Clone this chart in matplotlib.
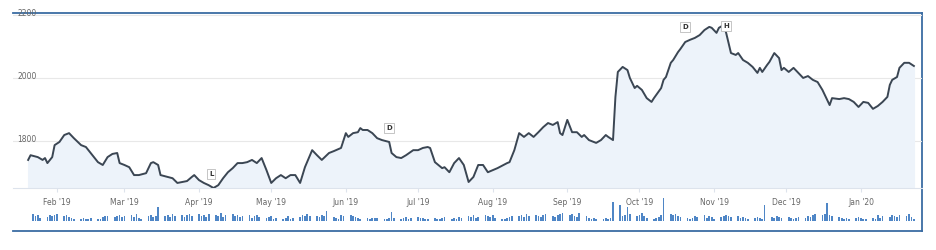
import pandas as pd
import matplotlib
matplotlib.use("Agg")
import matplotlib.pyplot as plt
import matplotlib.dates as mdates
import matplotlib.transforms as mtransforms

# Price series
price_dates = [
    "2019-01-20", "2019-01-21", "2019-01-24", "2019-01-26", "2019-01-27", "2019-01-28",
    "2019-01-30", "2019-01-31", "2019-02-02", "2019-02-04", "2019-02-06", "2019-02-08",
    "2019-02-11", "2019-02-13", "2019-02-15", "2019-02-18", "2019-02-20", "2019-02-22",
    "2019-02-24", "2019-02-26", "2019-02-27", "2019-03-01", "2019-03-03", "2019-03-05",
    "2019-03-07", "2019-03-10", "2019-03-12", "2019-03-13", "2019-03-15", "2019-03-16",
    "2019-03-19", "2019-03-21", "2019-03-23", "2019-03-25", "2019-03-27", "2019-03-29",
    "2019-03-30", "2019-04-01", "2019-04-03", "2019-04-05", "2019-04-07", "2019-04-09",
    "2019-04-11", "2019-04-13", "2019-04-15", "2019-04-17", "2019-04-19", "2019-04-21",
    "2019-04-23", "2019-04-25", "2019-04-27", "2019-04-29", "2019-05-01", "2019-05-03",
    "2019-05-05", "2019-05-07", "2019-05-09", "2019-05-11", "2019-05-13", "2019-05-15",
    "2019-05-18", "2019-05-20", "2019-05-22", "2019-05-25", "2019-05-27", "2019-05-30",
    "2019-06-01", "2019-06-02", "2019-06-04", "2019-06-06", "2019-06-07", "2019-06-08",
    "2019-06-10", "2019-06-12", "2019-06-14", "2019-06-16", "2019-06-19", "2019-06-20",
    "2019-06-22", "2019-06-24", "2019-06-26", "2019-06-29", "2019-07-01", "2019-07-03",
    "2019-07-05", "2019-07-06", "2019-07-08", "2019-07-11", "2019-07-12", "2019-07-14",
    "2019-07-16", "2019-07-18", "2019-07-20", "2019-07-22", "2019-07-24", "2019-07-26",
    "2019-07-28", "2019-07-30", "2019-08-03", "2019-08-07", "2019-08-08", "2019-08-10",
    "2019-08-12", "2019-08-14", "2019-08-16", "2019-08-18", "2019-08-20", "2019-08-22",
    "2019-08-24", "2019-08-26", "2019-08-28", "2019-08-29", "2019-08-30", "2019-09-01",
    "2019-09-03", "2019-09-05", "2019-09-07", "2019-09-08", "2019-09-10", "2019-09-13",
    "2019-09-15", "2019-09-17", "2019-09-18", "2019-09-20", "2019-09-21", "2019-09-22",
    "2019-09-24", "2019-09-26", "2019-09-27", "2019-09-29", "2019-09-30", "2019-10-02",
    "2019-10-04", "2019-10-06", "2019-10-07", "2019-10-10", "2019-10-11", "2019-10-12",
    "2019-10-14", "2019-10-15", "2019-10-17", "2019-10-18", "2019-10-20", "2019-10-22",
    "2019-10-24", "2019-10-26", "2019-10-28", "2019-10-30", "2019-10-31", "2019-11-02",
    "2019-11-03", "2019-11-05", "2019-11-06", "2019-11-08", "2019-11-10", "2019-11-11",
    "2019-11-13", "2019-11-15", "2019-11-17", "2019-11-19", "2019-11-20", "2019-11-21",
    "2019-11-23", "2019-11-24", "2019-11-26", "2019-11-28", "2019-11-29", "2019-11-30",
    "2019-12-02", "2019-12-04", "2019-12-06", "2019-12-08", "2019-12-10", "2019-12-12",
    "2019-12-14", "2019-12-16", "2019-12-18", "2019-12-19", "2019-12-20", "2019-12-23",
    "2019-12-25", "2019-12-27", "2019-12-29", "2019-12-31", "2020-01-02", "2020-01-04",
    "2020-01-06", "2020-01-08", "2020-01-10", "2020-01-12", "2020-01-13", "2020-01-14",
    "2020-01-16", "2020-01-17", "2020-01-19", "2020-01-21", "2020-01-23",
]
price_values = [
    1740, 1755, 1749, 1740, 1746, 1730,
    1749, 1787, 1797, 1819, 1825, 1809,
    1787, 1781, 1762, 1733, 1724, 1749,
    1759, 1762, 1730, 1724, 1717, 1692,
    1692, 1698, 1730, 1733, 1724, 1692,
    1686, 1682, 1667, 1670, 1673, 1686,
    1692, 1676, 1667, 1660, 1651, 1660,
    1682, 1701, 1714, 1730, 1730, 1733,
    1740, 1730, 1746, 1708, 1667, 1682,
    1692, 1682, 1692, 1692, 1667, 1717,
    1771, 1755, 1740, 1762, 1768, 1778,
    1825, 1813, 1825, 1828, 1841, 1835,
    1835, 1825, 1809, 1803, 1797, 1762,
    1749, 1746, 1755, 1771, 1771, 1778,
    1781, 1778, 1733, 1714, 1717, 1701,
    1730, 1746, 1724, 1670, 1686, 1724,
    1724, 1701, 1714, 1730, 1733, 1771,
    1825, 1813, 1825, 1813, 1828, 1844,
    1857, 1851, 1860, 1825, 1819, 1867,
    1828, 1828, 1813, 1819, 1803, 1794,
    1803, 1819, 1813, 1803, 1940, 2019,
    2035, 2025, 2000, 1968, 1975, 1962,
    1936, 1924, 1936, 1968, 1994, 2003,
    2048, 2057, 2082, 2092, 2114, 2121,
    2127, 2136, 2152, 2162, 2159, 2143,
    2159, 2168, 2143, 2079, 2073, 2079,
    2057, 2048, 2035, 2016, 2032, 2019,
    2041, 2051, 2079, 2063, 2025, 2032,
    2019, 2032, 2016, 2000, 2006, 1994,
    1987, 1962, 1930, 1914, 1936, 1933,
    1936, 1933, 1924, 1908, 1924, 1921,
    1902, 1911, 1924, 1940, 1978, 1994,
    2003, 2032, 2048, 2048, 2038,
]

# Daily volume bars, one per trading day from 2019-01-22
volume_start = "2019-01-22"
volumes = [
    7, 5, 6, 3, 4, 6, 5, 6,
    7, 5, 6, 4, 3, 2, 2, 3, 2, 2, 3, 2, 2, 4, 5, 5, 4, 5, 6, 4,
    5, 6, 4, 7, 3, 2, 5, 6, 4, 5, 13, 5, 6, 4, 7, 5, 6, 4, 6, 7, 5,
    7, 5, 6, 4, 7, 6, 5, 8, 4, 6, 7, 5, 6, 4, 5, 6, 3, 5, 6, 4, 3, 4,
    5, 2, 3, 2, 3, 5, 2, 3, 4, 6, 5, 7, 5, 5, 4, 6, 5, 10, 4, 3, 2, 6, 5,
    6, 5, 4, 3, 2, 3, 2, 3, 3, 3, 2, 2, 3, 9, 3, 2, 3, 4, 2, 3,
    4, 3, 3, 2, 2, 3, 2, 2, 3, 4, 2, 3, 2, 4, 3, 5, 4, 6, 3, 4, 6, 5, 4,
    6, 3, 2, 2, 3, 4, 5, 5, 6, 4, 7, 5, 6, 5, 4, 6, 7, 5, 4, 6, 7, 8,
    6, 7, 5, 4, 8, 5, 3, 2, 3, 2, 2, 3, 2, 3, 18, 15, 5, 6, 13, 7, 5,
    6, 8, 5, 3, 2, 3, 4, 6, 22, 7, 6, 7, 5, 4, 3, 2, 3, 5, 4, 6, 3, 5, 4,
    2, 4, 5, 6, 5, 4, 5, 3, 4, 3, 2, 3, 4, 3, 2, 15, 4, 3, 5, 4, 3,
    4, 3, 2, 3, 4, 3, 5, 4, 6, 7, 6, 7, 17, 6, 5, 4, 3, 2, 3, 2, 3, 4,
    3, 2, 2, 3, 2, 6, 3, 5, 4, 6, 5, 4, 6, 5, 7, 4, 2,
]

# Flags drawn above the line
flag_labels = ["L", "D", "D", "H"]
flag_dates = ["2019-04-06", "2019-06-19", "2019-10-20", "2019-11-06"]
flag_values = [1695, 1841, 2162, 2165]

y_gridlines = [1800, 2000, 2200]

LINE_COLOR = "#3b4653"
FILL_COLOR = "#edf3fa"
BAR_COLOR = "#4f86c6"
FRAME_COLOR = "#3a6ca3"
TEXT_COLOR = "#666666"

x_range = (pd.Timestamp("2019-01-13 17:00"), pd.Timestamp("2020-01-26 09:00"))
y_range = (1651, 2206)


def main() -> None:
    dates = pd.to_datetime(price_dates)
    vol_dates = pd.bdate_range(volume_start, periods=len(volumes))

    fig = plt.figure(figsize=(9.37, 2.5), dpi=100)

    # outer frame (top, right, bottom borders)
    frame = fig.add_axes([13 / 937, 1 - 231 / 250, 909 / 937, 218 / 250])
    frame.set_xticks([])
    frame.set_yticks([])
    frame.patch.set_alpha(0)
    frame.spines["left"].set_visible(False)
    for side in ("top", "right", "bottom"):
        frame.spines[side].set_color(FRAME_COLOR)
        frame.spines[side].set_linewidth(1.3)

    # price panel
    ax = fig.add_axes([13 / 937, 1 - 188 / 250, 909 / 937, 175 / 250])
    ax.patch.set_alpha(0)
    ax.set_xlim(*x_range)
    ax.set_ylim(*y_range)
    for v in y_gridlines:
        ax.axhline(v, color="#e8e8e8", lw=0.8, zorder=0)
    ax.fill_between(dates, price_values, y_range[0], color=FILL_COLOR, zorder=1)
    ax.plot(dates, price_values, color=LINE_COLOR, lw=1.4, zorder=3,
            solid_joinstyle="round")

    for spine in ("top", "right", "left"):
        ax.spines[spine].set_visible(False)
    ax.spines["bottom"].set_color("#dde3ec")
    ax.spines["bottom"].set_linewidth(0.8)
    ax.set_yticks([])
    ax.xaxis.set_major_locator(mdates.MonthLocator())
    ax.xaxis.set_major_formatter(mdates.DateFormatter("%b '%y"))
    ax.tick_params(axis="x", length=3, color="#dde3ec", labelsize=5.5,
                   labelcolor=TEXT_COLOR, pad=4)

    trans = mtransforms.blended_transform_factory(ax.transAxes, ax.transData)
    for v in y_gridlines:
        ax.text(0.005, v + 6, str(v), transform=trans, fontsize=5.5,
                color=TEXT_COLOR, ha="left", va="center")

    for lab, d, v in zip(flag_labels, flag_dates, flag_values):
        ax.text(pd.Timestamp(d), v, lab, fontsize=5, fontweight="bold",
                color="#333333", ha="center", va="center", zorder=5,
                bbox=dict(boxstyle="square,pad=0.3", fc="white",
                          ec="#bbbbbb", lw=0.6))

    # volume panel
    vax = fig.add_axes([13 / 937, 1 - 221 / 250, 909 / 937, 24 / 250])
    vax.patch.set_alpha(0)
    vax.bar(vol_dates, volumes, width=0.7, color=BAR_COLOR, linewidth=0)
    vax.set_xlim(*x_range)
    vax.set_ylim(0, 23)
    vax.set_xticks([])
    vax.set_yticks([])
    for spine in vax.spines.values():
        spine.set_visible(False)

    fig.savefig("out.png", dpi=100)


if __name__ == "__main__":
    main()
